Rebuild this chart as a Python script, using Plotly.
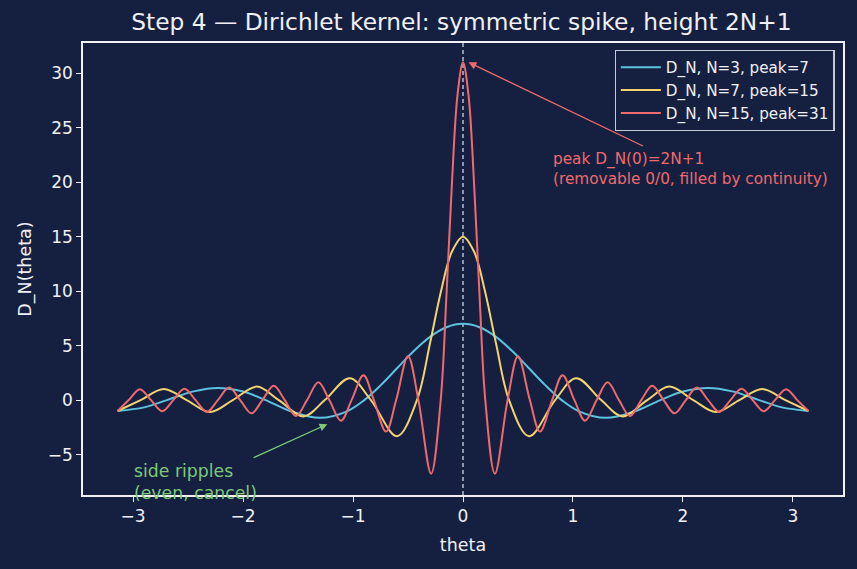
import plotly.graph_objects as go

# ---- data (positive half; kernel is even, mirrored below) ----
theta_n3 = [0.0, 0.15, 0.30, 0.45, 0.60, 0.75, 0.8976, 1.05, 1.30, 1.55, 1.7952, 2.0, 2.23, 2.45, 2.6928, 2.90, 3.1416]
d_n3 = [7.0, 6.689, 5.805, 4.482, 2.921, 1.348, 0.0, -1.006, -1.631, -1.084, 0.0, 0.781, 1.111, 0.798, 0.0, -0.669, -1.0]

theta_n7 = [0.0, 0.10, 0.20, 0.30, 0.4189, 0.60, 0.8378, 1.03, 1.2566, 1.45, 1.6755, 1.875,
            2.0944, 2.30, 2.5133, 2.72, 2.9322, 3.1416]
d_n7 = [15.0, 13.638, 9.992, 5.208, 0.0, -3.308, 0.0, 2.014, 0.0, -1.496, 0.0, 1.237,
        0.0, -1.095, 0.0, 1.022, 0.0, -1.0]

theta_n15 = [0.0, 0.05, 0.10, 0.15, 0.2027, 0.29, 0.4054, 0.50, 0.6080, 0.70, 0.8107, 0.905,
             1.0134, 1.11, 1.2161, 1.315, 1.4188, 1.518, 1.6214, 1.721, 1.8241, 1.924,
             2.0268, 2.127, 2.2295, 2.330, 2.4322, 2.533, 2.6348, 2.736, 2.8375, 2.939,
             3.0402, 3.1416]
d_n15 = [31.0, 27.99, 20.004, 9.728, 0.0, -6.76, 0.0, 4.02, 0.0, -2.89, 0.0, 2.275,
         0.0, -1.893, 0.0, 1.636, 0.0, -1.452, 0.0, 1.318, 0.0, -1.219,
         0.0, 1.144, 0.0, -1.088, 0.0, 1.048, 0.0, -1.021, 0.0, 1.005,
         0.0, -1.0]

series_names = ["D_N, N=3, peak=7", "D_N, N=7, peak=15", "D_N, N=15, peak=31"]
series_colors = ["#5bc3df", "#f2d36f", "#ee6a6c"]

x_ticks = [-3, -2, -1, 0, 1, 2, 3]
y_ticks = [-5, 0, 5, 10, 15, 20, 25, 30]

BG = "#152040"
FG = "#f0f0f5"
FONT = "DejaVu Sans"


def mirror(th, d):
    xs = [-t for t in reversed(th[1:])] + list(th)
    ys = list(reversed(d[1:])) + list(d)
    return xs, ys


fig = go.Figure()
for th, d, name, col in zip([theta_n3, theta_n7, theta_n15], [d_n3, d_n7, d_n15],
                            series_names, series_colors):
    xs, ys = mirror(th, d)
    fig.add_trace(go.Scatter(x=xs, y=ys, mode="lines", name=name,
                             line=dict(color=col, width=2, shape="spline", smoothing=1.0)))

# vertical dashed line at theta = 0
fig.add_shape(type="line", xref="x", yref="paper", x0=0, x1=0, y0=0, y1=1,
              line=dict(color="#dfe6f2", width=1.2, dash="4px,3px"), layer="below")

# peak annotation
fig.add_annotation(x=0.05, y=31, ax=1.65, ay=23.25, xref="x", yref="y", axref="x", ayref="y",
                   text="", showarrow=True, arrowhead=2, arrowsize=1.2, arrowwidth=1.3,
                   arrowcolor="#ee6a6c")
fig.add_annotation(x=0.80, y=21.2, xref="x", yref="y", xanchor="left", yanchor="middle",
                   text="peak D_N(0)=2N+1<br>(removable 0/0, filled by continuity)",
                   showarrow=False, align="left",
                   font=dict(family=FONT, size=15.3, color="#ee6a6c"))

# ripple annotation
fig.add_annotation(x=-1.234, y=-2.21, ax=-1.918, ay=-5.35, xref="x", yref="y", axref="x", ayref="y",
                   text="", showarrow=True, arrowhead=2, arrowsize=1.2, arrowwidth=1.3,
                   arrowcolor="#7dc97a")
fig.add_annotation(x=-3.01, y=-7.55, xref="x", yref="y", xanchor="left", yanchor="middle",
                   text="side ripples<br>(even, cancel)", showarrow=False, align="left",
                   font=dict(family=FONT, size=17.3, color="#7dc97a"))

axis_common = dict(showgrid=False, zeroline=False, showline=True, linecolor=FG, linewidth=1.5,
                   mirror=True, ticks="outside", ticklen=5, tickwidth=1.2, tickcolor=FG,
                   tickfont=dict(family=FONT, size=17, color=FG),
                   title_font=dict(family=FONT, size=17.5, color=FG))

fig.update_xaxes(range=[-3.456, 3.456], tickvals=x_ticks,
                 ticktext=[("\u2212" + str(-v)) if v < 0 else str(v) for v in x_ticks],
                 title_text="theta", title_standoff=14, **axis_common)
fig.update_yaxes(range=[-8.71, 32.77], tickvals=y_ticks,
                 ticktext=[("\u2212" + str(-v)) if v < 0 else str(v) for v in y_ticks],
                 title_text="D_N(theta)", title_standoff=12, **axis_common)

fig.update_layout(
    width=857, height=569,
    paper_bgcolor=BG, plot_bgcolor=BG,
    margin=dict(l=83, r=14, t=43, b=74),
    title=dict(text="Step 4 \u2014 Dirichlet kernel: symmetric spike, height 2N+1",
               x=0.5384, xanchor="center", y=0.961, yanchor="middle",
               font=dict(family=FONT, size=23.3, color=FG)),
    legend=dict(x=0.989, y=0.985, xanchor="right", yanchor="top",
                bgcolor=BG, bordercolor="#c5cad6", borderwidth=1.2, itemwidth=40,
                font=dict(family=FONT, size=15.2, color=FG), tracegroupgap=2),
    showlegend=True,
)

fig.write_html("out.html")
